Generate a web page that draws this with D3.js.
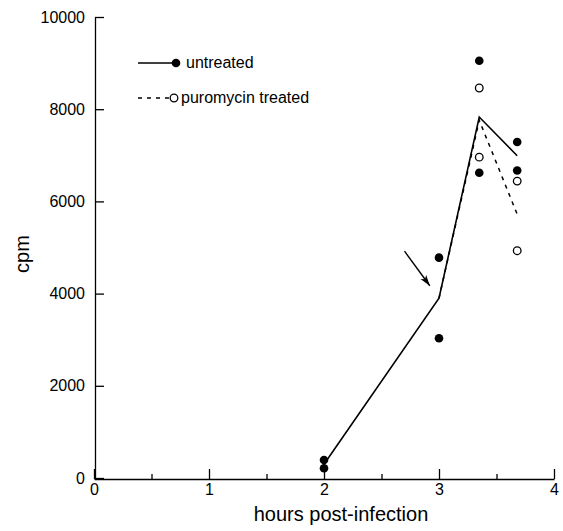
<!DOCTYPE html>
<html>
<head>
<meta charset="utf-8">
<script src="https://cdn.jsdelivr.net/npm/d3@7"></script>
<style>
  body { margin: 0; background: #fff; }
  text { font-family: "Liberation Sans", Arial, sans-serif; fill: #000; }
</style>
</head>
<body>
<div id="chart"></div>
<script>
// Values
var xTicks = [0, 1, 2, 3, 4];
var xMinorTicks = [0.5, 1.5, 2.5, 3.5];
var yTicks = [0, 2000, 4000, 6000, 8000, 10000];

// untreated: individual points
var untreatedX = [2, 2, 3, 3, 3.35, 3.35, 3.68, 3.68];
var untreatedY = [390, 210, 4780, 3030, 9050, 6620, 7290, 6670];

// puromycin treated: individual points
var treatedX = [3.35, 3.35, 3.68, 3.68];
var treatedY = [8460, 6960, 6440, 4930];

// lines through the points
var untreatedLineX = [2, 3, 3.35, 3.68];
var untreatedLineY = [300, 3900, 7830, 6990];
var treatedLineX = [3, 3.35, 3.68];
var treatedLineY = [3900, 7760, 5720];

// arrow marking time of puromycin addition
var arrowX = [2.70, 2.92];
var arrowY = [4920, 4170];

var width = 563, height = 531;
var margin = { top: 17, right: 9, bottom: 53, left: 94 };

var svg = d3.select("#chart")
  .append("svg")
  .attr("width", width)
  .attr("height", height);

svg.append("rect").attr("width", width).attr("height", height).attr("fill", "#fff");

var defs = svg.append("defs");
defs.append("marker")
  .attr("id", "arrowhead")
  .attr("viewBox", "0 0 12 8")
  .attr("refX", 11)
  .attr("refY", 4)
  .attr("markerWidth", 12)
  .attr("markerHeight", 8)
  .attr("markerUnits", "userSpaceOnUse")
  .attr("orient", "auto")
  .append("path")
  .attr("d", "M0,0.5 L11,4 L0,7.5 L3,4 Z")
  .attr("fill", "#000");

var x = d3.scaleLinear().domain([0, 4]).range([margin.left, width - margin.right]);
var y = d3.scaleLinear().domain([0, 10000]).range([height - margin.bottom, margin.top]);

// X axis, inward ticks
var xAxis = svg.append("g")
  .attr("transform", "translate(0," + (height - margin.bottom + 1) + ")")
  .call(d3.axisBottom(x).tickValues(xTicks).tickFormat(d3.format("d"))
    .tickSizeInner(-10).tickSizeOuter(0).tickPadding(5));
xAxis.selectAll("text").style("font-size", "16px");

svg.append("g")
  .attr("transform", "translate(0," + (height - margin.bottom + 1) + ")")
  .call(d3.axisBottom(x).tickValues(xMinorTicks).tickFormat("")
    .tickSizeInner(-5).tickSizeOuter(0))
  .select(".domain").remove();

// Y axis, inward ticks
var yAxis = svg.append("g")
  .attr("transform", "translate(" + (margin.left + 1) + ",0)")
  .call(d3.axisLeft(y).tickValues(yTicks).tickFormat(d3.format("d"))
    .tickSizeInner(-9).tickSizeOuter(0).tickPadding(10));
yAxis.selectAll("text").style("font-size", "16px");

svg.selectAll(".domain, .tick line").attr("stroke", "#000").attr("stroke-width", 1.3);

// Axis titles
svg.append("text")
  .attr("x", 341)
  .attr("y", 521)
  .attr("text-anchor", "middle")
  .style("font-size", "20px")
  .text("hours post-infection");

svg.append("text")
  .attr("transform", "translate(29,254) rotate(-90)")
  .attr("text-anchor", "middle")
  .style("font-size", "20px")
  .text("cpm");

// Lines
var line = d3.line()
  .x(function(d) { return x(d[0]); })
  .y(function(d) { return y(d[1]); });

svg.append("path")
  .datum(d3.zip(treatedLineX, treatedLineY))
  .attr("d", line)
  .attr("fill", "none")
  .attr("stroke", "#000")
  .attr("stroke-width", 1.5)
  .attr("stroke-dasharray", "4,5");

svg.append("path")
  .datum(d3.zip(untreatedLineX, untreatedLineY))
  .attr("d", line)
  .attr("fill", "none")
  .attr("stroke", "#000")
  .attr("stroke-width", 1.6);

// Points
svg.selectAll(".untreated")
  .data(d3.zip(untreatedX, untreatedY))
  .enter()
  .append("circle")
  .attr("class", "untreated")
  .attr("cx", function(d) { return x(d[0]); })
  .attr("cy", function(d) { return y(d[1]); })
  .attr("r", 4.3)
  .attr("fill", "#000");

svg.selectAll(".treated")
  .data(d3.zip(treatedX, treatedY))
  .enter()
  .append("circle")
  .attr("class", "treated")
  .attr("cx", function(d) { return x(d[0]); })
  .attr("cy", function(d) { return y(d[1]); })
  .attr("r", 3.8)
  .attr("fill", "#fff")
  .attr("stroke", "#000")
  .attr("stroke-width", 1.3);

// Arrow
svg.append("line")
  .attr("x1", x(arrowX[0]))
  .attr("y1", y(arrowY[0]))
  .attr("x2", x(arrowX[1]))
  .attr("y2", y(arrowY[1]))
  .attr("stroke", "#000")
  .attr("stroke-width", 1.4)
  .attr("marker-end", "url(#arrowhead)");

// Legend
var legend = svg.append("g");
legend.append("line")
  .attr("x1", 138).attr("x2", 175).attr("y1", 63).attr("y2", 63)
  .attr("stroke", "#000").attr("stroke-width", 1.4);
legend.append("circle")
  .attr("cx", 176).attr("cy", 63).attr("r", 4.3).attr("fill", "#000");
legend.append("text")
  .attr("x", 186).attr("y", 68)
  .style("font-size", "16px")
  .text("untreated");

legend.append("line")
  .attr("x1", 138).attr("x2", 170).attr("y1", 98).attr("y2", 98)
  .attr("stroke", "#000").attr("stroke-width", 1.3)
  .attr("stroke-dasharray", "4,5");
legend.append("circle")
  .attr("cx", 174).attr("cy", 98).attr("r", 3.8)
  .attr("fill", "#fff").attr("stroke", "#000").attr("stroke-width", 1.3);
legend.append("text")
  .attr("x", 181).attr("y", 103)
  .style("font-size", "16px")
  .text("puromycin treated");
</script>
</body>
</html>
